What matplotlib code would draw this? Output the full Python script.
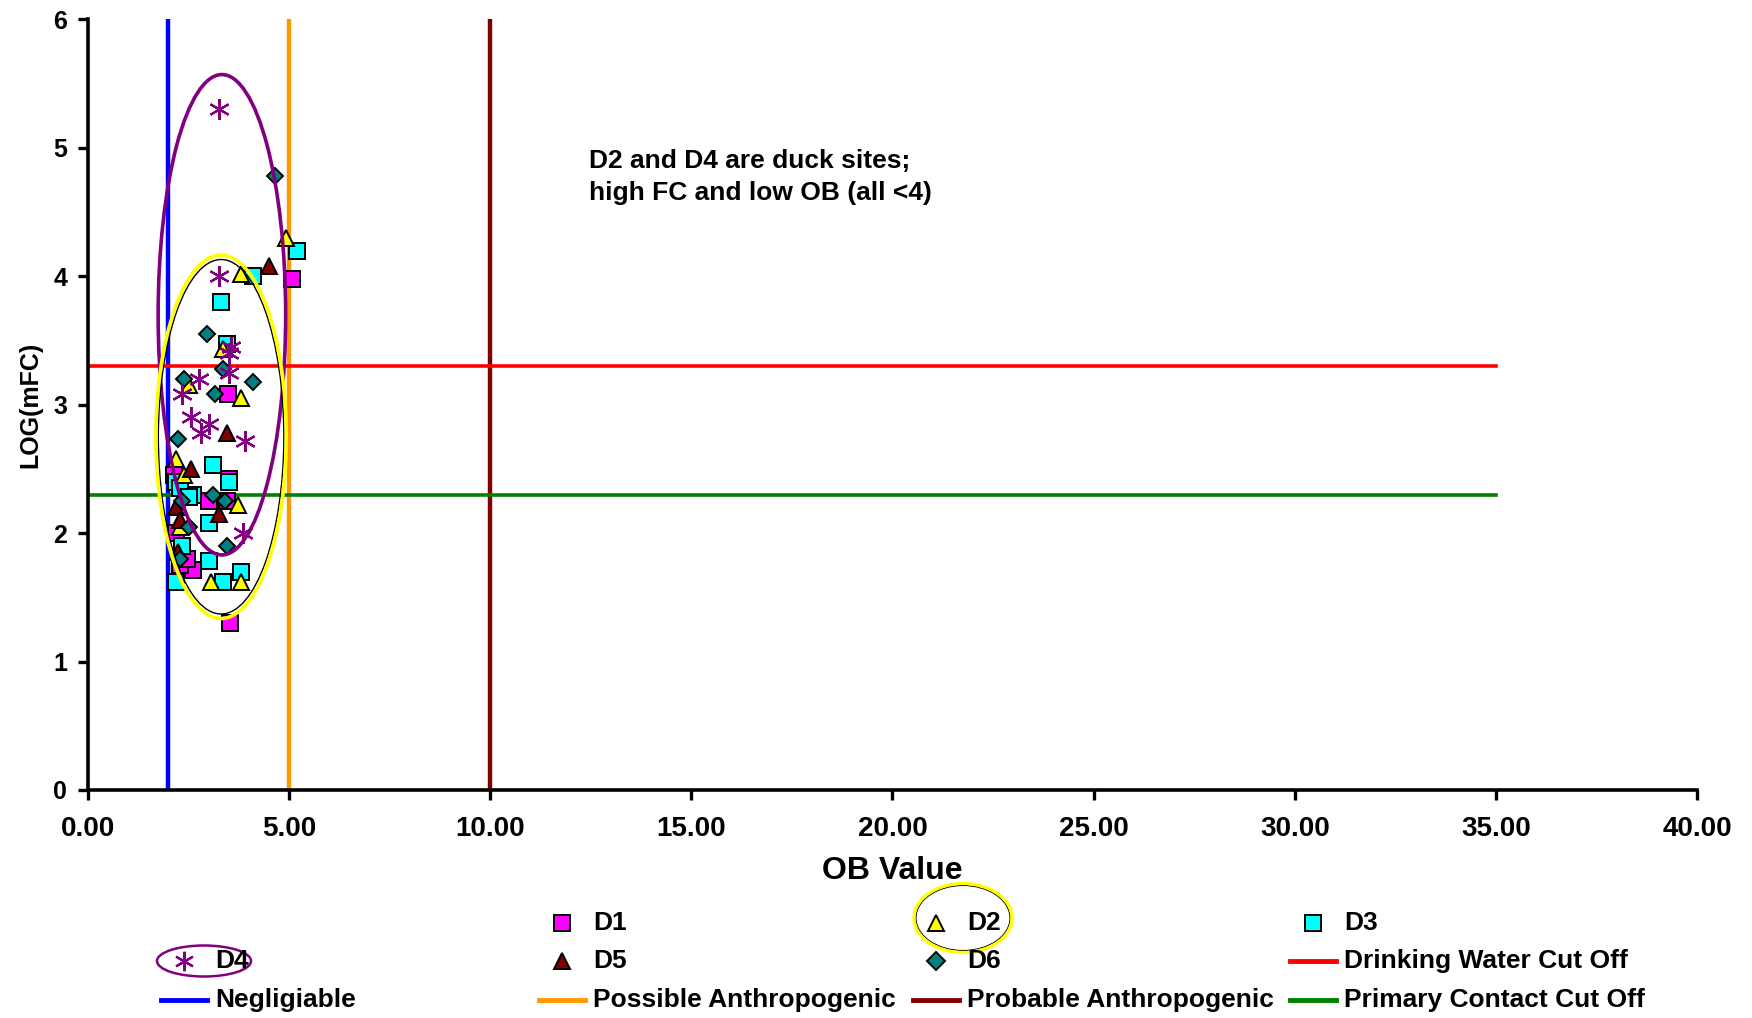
import matplotlib

matplotlib.use("Agg")
import matplotlib.pyplot as plt
from matplotlib.lines import Line2D
from matplotlib.patches import Ellipse
from matplotlib.ticker import FormatStrFormatter

# (OB value, LOG(mFC))
d1_ob = [5.08, 3.47, 3.53, 2.6, 3.5, 3.0, 3.45, 2.2, 2.3, 2.15, 2.45]
d1_fc = [3.98, 3.08, 1.30, 1.71, 2.42, 2.25, 2.25, 2.0, 1.75, 2.45, 1.80]
d2_ob = [4.93, 3.8, 3.8, 2.5, 2.2, 3.73, 3.05, 3.8, 2.3, 3.35, 2.4]
d2_fc = [4.3, 4.02, 3.05, 3.15, 2.58, 2.22, 1.62, 1.62, 2.05, 3.43, 2.45]
d3_ob = [5.2, 4.1, 3.3, 3.45, 3.1, 3.5, 2.2, 2.6, 2.3, 3.0, 3.0, 2.35, 2.2, 3.35, 3.8, 2.5]
d3_fc = [4.2, 4.0, 3.8, 3.47, 2.53, 2.4, 2.4, 2.3, 2.35, 2.08, 1.78, 1.9, 1.62, 1.62, 1.7, 2.28]
d4_ob = [3.25, 3.25, 3.5, 3.55, 3.5, 2.75, 2.35, 2.55, 2.8, 3.0, 3.9, 3.85]
d4_fc = [5.3, 4.0, 3.4, 3.45, 3.25, 3.2, 3.08, 2.9, 2.78, 2.85, 2.72, 2.0]
d5_ob = [4.5, 3.45, 2.55, 3.25, 2.2, 2.3, 2.25]
d5_fc = [4.08, 2.78, 2.5, 2.15, 2.2, 2.1, 1.85]
d6_ob = [4.65, 2.95, 3.35, 2.4, 4.1, 3.15, 2.25, 3.1, 3.4, 2.5, 3.45, 2.35, 2.3]
d6_fc = [4.78, 3.55, 3.28, 3.2, 3.18, 3.08, 2.73, 2.3, 2.25, 2.05, 1.9, 2.25, 1.8]

negligible_ob = 2
possible_ob = 5
probable_ob = 10
drinking_fc = 3.3
primary_fc = 2.3
cutoff_x_end = 35

note = "D2 and D4 are duck sites;\nhigh FC and low OB (all <4)"

BOLD = ["Liberation Sans", "DejaVu Sans"]

fig = plt.figure(figsize=(17.52, 10.18), dpi=100)
ax = fig.add_axes([0.0502, 0.224, 0.9184, 0.757])

# reference lines
ax.plot([negligible_ob, negligible_ob], [0, 6], color="#0000ff", lw=3.2, zorder=1)
ax.plot([possible_ob, possible_ob], [0, 6], color="#ff9900", lw=3.2, zorder=1)
ax.plot([probable_ob, probable_ob], [0, 6], color="#800000", lw=3.2, zorder=1)
ax.plot([0, cutoff_x_end], [drinking_fc, drinking_fc], color="#ff0000", lw=2.6, zorder=1)
ax.plot([0, cutoff_x_end], [primary_fc, primary_fc], color="#008000", lw=2.6, zorder=1)

series = [
    (d1_ob, d1_fc, dict(marker="s", mfc="#ff00ff", mec="black", ms=12)),
    (d3_ob, d3_fc, dict(marker="s", mfc="#00ffff", mec="black", ms=12)),
    (d2_ob, d2_fc, dict(marker="^", mfc="#ffff00", mec="black", ms=12)),
    (d5_ob, d5_fc, dict(marker="^", mfc="#800000", mec="black", ms=12)),
    (d6_ob, d6_fc, dict(marker="D", mfc="#008080", mec="black", ms=8.5)),
    (d4_ob, d4_fc, dict(marker=(6, 2, 0), mfc="none", mec="#800080", ms=15)),
]
for xs, ys, st in series:
    mew = 1.6 if st["mec"] == "#800080" else 1.4
    ax.plot(xs, ys, ls="none", mew=mew, zorder=3, **st)

# hand-drawn ellipses around clusters
ax.add_patch(Ellipse((3.33, 3.70), 3.17, 3.74, fill=False, ec="#800080", lw=2.6, zorder=4))
ax.add_patch(Ellipse((3.31, 2.75), 3.12, 2.76, fill=False, ec="black", lw=1.0, zorder=4))
ax.add_patch(Ellipse((3.31, 2.75), 3.24, 2.83, fill=False, ec="#ffff00", lw=2.6, zorder=4))

ax.text(12.45, 4.99, note, fontsize=19, fontweight="bold", family=BOLD, va="top", linespacing=1.4)

ax.set_xlim(0, 40)
ax.set_ylim(0, 6)
ax.set_xticks(range(0, 41, 5))
ax.set_yticks(range(0, 7))
ax.xaxis.set_major_formatter(FormatStrFormatter("%.2f"))
for s in ["top", "right"]:
    ax.spines[s].set_visible(False)
for s in ["left", "bottom"]:
    ax.spines[s].set_linewidth(2.6)
ax.tick_params(width=2.4, length=7, direction="out")
ax.tick_params(axis="x", pad=12)
ax.tick_params(axis="y", pad=8)
for lab in ax.get_xticklabels():
    lab.set_fontsize(20)
    lab.set_fontweight("bold")
    lab.set_family(BOLD)
for lab in ax.get_yticklabels():
    lab.set_fontsize(18)
    lab.set_fontweight("bold")
    lab.set_family(BOLD)
ax.set_xlabel("OB Value", fontsize=23, fontweight="bold", family=BOLD, labelpad=10)
ax.set_ylabel("LOG(mFC)", fontsize=18, fontweight="bold", family=BOLD, labelpad=8)

# legend laid out as in the reference (4 columns, 3 rows)
col_x = [184, 562, 936, 1313]
row_y = [923, 961, 1000]
W, H = 1752, 1018
entries = [
    (0, 1, "D1", dict(marker="s", mfc="#ff00ff", mec="black", ms=11, ls="none")),
    (0, 2, "D2", dict(marker="^", mfc="#ffff00", mec="black", ms=11, ls="none")),
    (0, 3, "D3", dict(marker="s", mfc="#00ffff", mec="black", ms=11, ls="none")),
    (1, 0, "D4", dict(marker=(6, 2, 0), mfc="none", mec="#800080", ms=14, ls="none", mew=1.6)),
    (1, 1, "D5", dict(marker="^", mfc="#800000", mec="black", ms=11, ls="none")),
    (1, 2, "D6", dict(marker="D", mfc="#008080", mec="black", ms=9, ls="none")),
    (1, 3, "Drinking Water Cut Off", dict(color="#ff0000", lw=3.5)),
    (2, 0, "Negligiable", dict(color="#0000ff", lw=3.5)),
    (2, 1, "Possible Anthropogenic", dict(color="#ff9900", lw=3.5)),
    (2, 2, "Probable Anthropogenic", dict(color="#800000", lw=3.5)),
    (2, 3, "Primary Contact Cut Off", dict(color="#008000", lw=3.5)),
]
for r, c, label, st in entries:
    cx = col_x[c] / W
    cy = 1 - row_y[r] / H
    if "marker" in st:
        st.setdefault("mew", 1.4)
        fig.add_artist(Line2D([cx], [cy], transform=fig.transFigure, **st))
    else:
        fig.add_artist(Line2D([cx - 23 / W, cx + 23 / W], [cy, cy], transform=fig.transFigure, **st))
    fig.text(cx + 31 / W, cy, label, fontsize=19, fontweight="bold", family=BOLD, va="center", ha="left")

fig.add_artist(Ellipse((204 / W, 1 - 961 / H), 94 / W, 31 / H, transform=fig.transFigure,
                       fill=False, ec="#800080", lw=1.8))
fig.add_artist(Ellipse((963 / W, 1 - 918 / H), 94 / W, 65 / H, transform=fig.transFigure,
                       fill=False, ec="black", lw=0.8))
fig.add_artist(Ellipse((963 / W, 1 - 918 / H), 98 / W, 69 / H, transform=fig.transFigure,
                       fill=False, ec="#ffff00", lw=2.4))

fig.savefig("out.png", dpi=100)
